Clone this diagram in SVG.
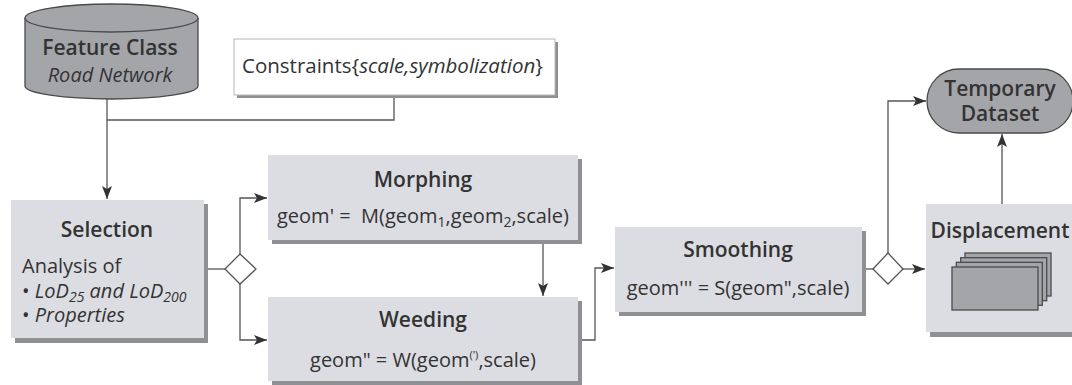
<svg xmlns="http://www.w3.org/2000/svg" width="1072" height="385" viewBox="0 0 1072 385">
  <style>
    text { font-family: "Open Sans", "DejaVu Sans", sans-serif; fill: #333; font-size: 20px; }
    .title { font-size: 21px; font-weight: 600; text-anchor: middle; }
    .mid { text-anchor: middle; }
    .it { font-style: italic; }
    .box { fill: #dcdde2; }
    .shadow { fill: #8e9094; }
    .dark { fill: #a3a5a9; stroke: #4a4a4a; stroke-width: 1.3; }
    .wire { fill: none; stroke: #555; stroke-width: 1.3; }
    .arrow { fill: none; stroke: #555; stroke-width: 1.3; marker-end: url(#head); }
    .gate { fill: #fff; stroke: #555; stroke-width: 1.3; }
  </style>
  <defs>
    <marker id="head" viewBox="0 0 13 10" refX="13" refY="5" markerWidth="13" markerHeight="10" markerUnits="userSpaceOnUse" orient="auto">
      <path d="M0,0 L13,5 L0,10 L3,5 z" fill="#333"/>
    </marker>
  </defs>

  <rect width="1072" height="385" fill="#fff"/>

  <!-- connectors -->
  <g id="connectors">
    <path class="arrow" d="M107,99 V199"/>
    <path class="wire" d="M394,97 V120 H107"/>
    <path class="wire" d="M208,269 H225"/>
    <path class="arrow" d="M240,254 V198 H267"/>
    <path class="arrow" d="M240,284 V340 H267"/>
    <path class="arrow" d="M543,244 V296"/>
    <path class="arrow" d="M582,340 H595 V268 H614"/>
    <path class="wire" d="M866,269 H873"/>
    <path class="arrow" d="M903,269 H925"/>
    <path class="arrow" d="M888,253 V101 H926"/>
    <path class="arrow" d="M1002,204 V134"/>
    <!-- branch gates -->
    <polygon class="gate" points="225,269 240,254 256,269 240,284"/>
    <polygon class="gate" points="873,269 888,253 903,269 888,284"/>
  </g>

  <!-- feature class store -->
  <g id="feature-class">
    <path class="dark" d="M25,18 V86 A86.5,13 0 0 0 198,86 V18"/>
    <ellipse class="dark" cx="111.5" cy="18" rx="86.5" ry="14"/>
    <text class="title" x="110" y="55">Feature Class</text>
    <text class="mid it" x="110" y="82">Road Network</text>
  </g>

  <!-- constraints -->
  <g id="constraints">
    <rect x="237" y="42" width="321" height="56" class="shadow"/>
    <rect x="234" y="39" width="321" height="56" fill="#fff" stroke="#b4b6ba" stroke-width="1"/>
    <text x="242" y="73" style="font-size:20.5px">Constraints{<tspan class="it">scale,symbolization</tspan>}</text>
  </g>

  <!-- selection -->
  <g id="selection">
    <rect x="15" y="204" width="193" height="139" class="shadow"/>
    <rect x="11" y="200" width="193" height="138" class="box"/>
    <text class="title" x="107" y="237">Selection</text>
    <text x="22" y="273">Analysis of</text>
    <text x="22" y="298" style="font-size:20px">• <tspan class="it">LoD<tspan font-size="14" baseline-shift="-4">25</tspan> and LoD<tspan font-size="14" baseline-shift="-4">200</tspan></tspan></text>
    <text x="22" y="322" style="font-size:20px">• <tspan class="it">Properties</tspan></text>
  </g>

  <!-- morphing -->
  <g id="morphing">
    <rect x="272" y="159" width="310" height="85" class="shadow"/>
    <rect x="268" y="155" width="310" height="85" class="box"/>
    <text class="title" x="423" y="187">Morphing</text>
    <text class="mid" x="423" y="223">geom' =&#160; M(geom<tspan font-size="14" baseline-shift="-4">1</tspan>,geom<tspan font-size="14" baseline-shift="-4">2</tspan>,scale)</text>
  </g>

  <!-- weeding -->
  <g id="weeding">
    <rect x="272" y="301" width="310" height="84" class="shadow"/>
    <rect x="268" y="297" width="310" height="84" class="box"/>
    <text class="title" x="423" y="327">Weeding</text>
    <text class="mid" x="423" y="367">geom" = W(geom<tspan font-size="11" baseline-shift="8">(')</tspan>,scale)</text>
  </g>

  <!-- smoothing -->
  <g id="smoothing">
    <rect x="619" y="231" width="247" height="85" class="shadow"/>
    <rect x="615" y="227" width="247" height="85" class="box"/>
    <text class="title" x="738" y="257">Smoothing</text>
    <text class="mid" x="738" y="295">geom''' = S(geom",scale)</text>
  </g>

  <!-- displacement -->
  <g id="displacement">
    <rect x="930" y="208" width="150" height="129" class="shadow"/>
    <rect x="926" y="204" width="150" height="128" class="box"/>
    <text class="title" x="1000" y="238">Displacement</text>
    <rect class="dark" x="965" y="253" width="86" height="43"/>
    <rect class="dark" x="960.7" y="257.7" width="86" height="43"/>
    <rect class="dark" x="956.3" y="262.3" width="86" height="43"/>
    <rect class="dark" x="952" y="267" width="86" height="43"/>
  </g>

  <!-- temporary dataset -->
  <g id="temporary-dataset">
    <rect class="dark" x="927" y="69" width="146" height="64" rx="32" ry="32"/>
    <text class="title" x="1000" y="96">Temporary</text>
    <text class="title" x="1000" y="121">Dataset</text>
  </g>
</svg>
